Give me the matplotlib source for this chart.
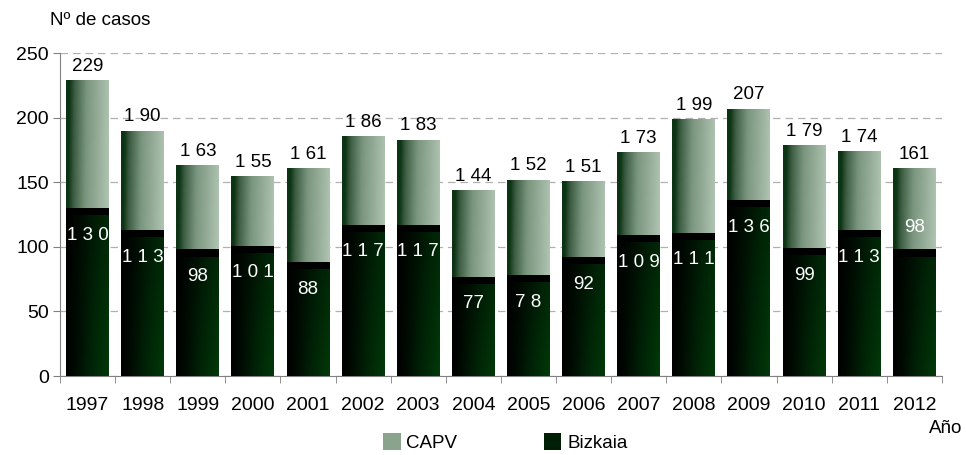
import numpy as np
import matplotlib
matplotlib.use("Agg")
import matplotlib.pyplot as plt
from matplotlib.colors import LinearSegmentedColormap
from matplotlib.patches import Patch

years = ["1997", "1998", "1999", "2000", "2001", "2002", "2003", "2004",
         "2005", "2006", "2007", "2008", "2009", "2010", "2011", "2012"]
capv = [229, 190, 163, 155, 161, 186, 183, 144, 152, 151, 173, 199, 207, 179, 174, 161]
bizkaia = [130, 113, 98, 101, 88, 117, 117, 77, 78, 92, 109, 111, 136, 99, 113, 98]
capv_labels = ["229", "1 90", "1 63", "1 55", "1 61", "1 86", "1 83", "1 44",
               "1 52", "1 51", "1 73", "1 99", "207", "1 79", "1 74", "161"]
bizkaia_labels = ["1 3 0", "1 1 3", "98", "1 0 1", "88", "1 1 7", "1 1 7", "77",
                  "7 8", "92", "1 0 9", "1 1 1", "1 3 6", "99", "1 1 3", "98"]

plt.rcParams['font.family'] = ['Liberation Sans', 'DejaVu Sans']

fig = plt.figure(figsize=(9.66, 4.55), dpi=100)
ax = fig.add_axes([0.0621, 0.1736, 0.9129, 0.7099])

x = np.arange(len(years))
width = 0.78

cmap_capv = LinearSegmentedColormap.from_list(
    "capv", [(0.0, "#0c3414"), (0.12, "#3c5c42"), (0.4, "#7a957e"), (1.0, "#b4c8b6")])
cmap_biz = LinearSegmentedColormap.from_list(
    "biz", [(0.0, "#000000"), (0.2, "#000a02"), (0.55, "#002206"), (1.0, "#003a08")])

bars_c = ax.bar(x, capv, width, color="#7f9a82", label="CAPV", zorder=2)
bars_b = ax.bar(x, bizkaia, width, color="#002a05", label="Bizkaia", zorder=3)

gx = np.linspace(0, 1, 128).reshape(1, -1)
gy = np.linspace(0, 1, 64).reshape(-1, 1)
for b in bars_c:
    x0, y0, w, h = b.get_x(), b.get_y(), b.get_width(), b.get_height()
    g = np.clip(gx - 0.08 * gy, 0, 1)
    im = ax.imshow(g, cmap=cmap_capv, extent=[x0, x0 + w, y0, y0 + h],
                   aspect="auto", origin="lower", zorder=2.1, vmin=0, vmax=1)
    im.set_clip_path(b)
for b, v in zip(bars_b, bizkaia):
    x0, y0, w, h = b.get_x(), b.get_y(), b.get_width(), b.get_height()
    g = np.clip(gx * (1.0 - 0.35 * gy), 0, 1)
    im = ax.imshow(g, cmap=cmap_biz, extent=[x0, x0 + w, y0, y0 + h],
                   aspect="auto", origin="lower", zorder=3.1, vmin=0, vmax=1)
    im.set_clip_path(b)
    ax.bar(b.get_x() + w / 2, 5.5, w, bottom=v - 5.5, color="#000000", zorder=3.2)

for xi, v, t in zip(x, capv, capv_labels):
    ax.text(xi, v + 4, t, ha="center", va="bottom", fontsize=13.5, color="#000000", zorder=5)
for i, (xi, v, t) in enumerate(zip(x, bizkaia, bizkaia_labels)):
    # the last label sits just above its bar in the original
    off = 17 if i == len(bizkaia) - 1 else -21
    ax.text(xi, v + off, t, ha="center", va="center", fontsize=13.5, color="#ffffff", zorder=5)

ax.set_xlim(-0.5, len(years) - 0.5)
ax.set_ylim(0, 250)
ax.set_yticks([0, 50, 100, 150, 200, 250])
ax.set_xticks(x)
ax.set_xticklabels(years)
ax.set_xticks(np.arange(-0.5, len(years), 1.0), minor=True)
ax.tick_params(axis="x", which="major", length=0, labelsize=14, pad=15)
ax.tick_params(axis="x", which="minor", length=5, color="#808080")
ax.tick_params(axis="y", labelsize=14, length=5, color="#808080", pad=3)

ax.grid(axis="y", color="#b0b0b0", linestyle=(0, (6, 4)), linewidth=0.9, zorder=0)
ax.set_axisbelow(True)
for s in ["top", "right"]:
    ax.spines[s].set_visible(False)
ax.spines["left"].set_color("#808080")
ax.spines["bottom"].set_color("#808080")

fig.text(0.052, 0.956, "Nº de casos", fontsize=13.5, ha="left", va="center")
fig.text(0.962, 0.059, "Año", fontsize=13.5, ha="left", va="center")

handles = [Patch(facecolor="#8aa38d"), Patch(facecolor="#001f04")]
leg = fig.legend(handles, ["CAPV", "Bizkaia"], loc="center", bbox_to_anchor=(0.523, 0.027),
                 ncol=2, frameon=False, fontsize=13.5, handlelength=0.95, handleheight=0.95,
                 handletextpad=0.3, columnspacing=4.6)

fig.savefig("out.png", dpi=100)
